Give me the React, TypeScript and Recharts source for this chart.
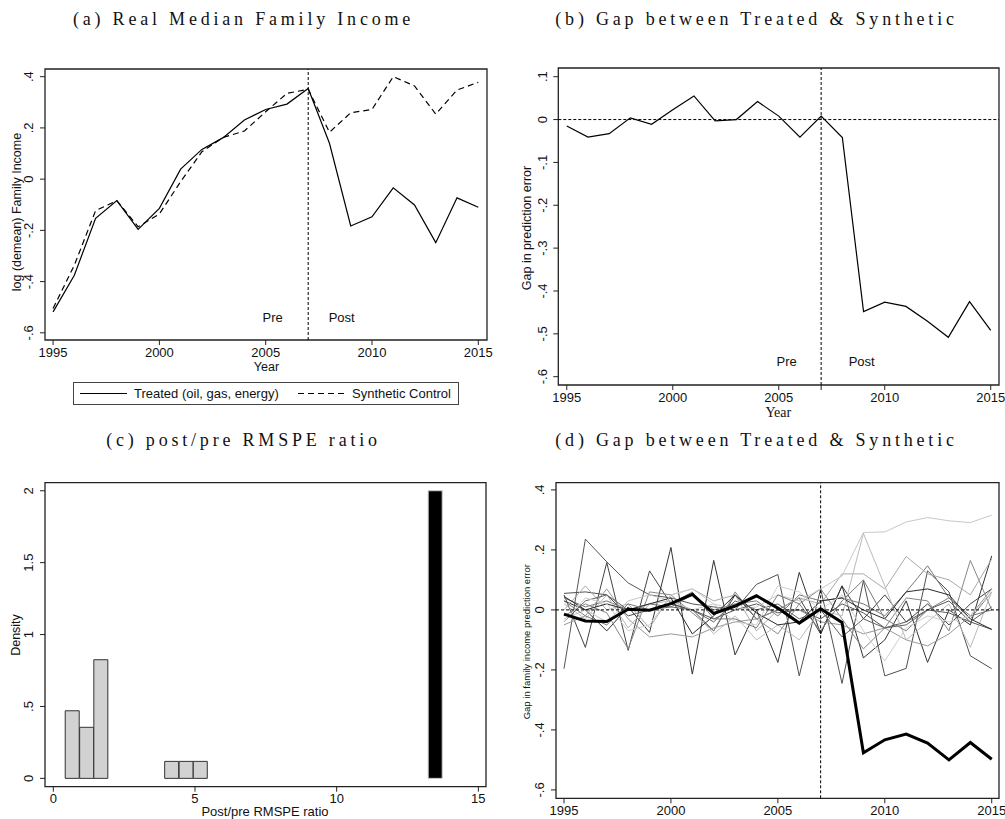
import React from 'react';
import {
  LineChart, Line, BarChart, Bar, Cell, XAxis, YAxis,
  ReferenceLine, ReferenceArea
} from 'recharts';

// ---- data ----
const years = [1995, 1996, 1997, 1998, 1999, 2000, 2001, 2002, 2003, 2004, 2005,
  2006, 2007, 2008, 2009, 2010, 2011, 2012, 2013, 2014, 2015];

// (a) log (demean) family income
const treatedIncome = [-0.518, -0.375, -0.153, -0.084, -0.196, -0.114, 0.039, 0.116, 0.162, 0.231, 0.272,
  0.293, 0.354, 0.140, -0.183, -0.147, -0.034, -0.101, -0.248, -0.073, -0.110];
const syntheticIncome = [-0.505, -0.336, -0.123, -0.084, -0.186, -0.136, -0.010, 0.107, 0.163, 0.188, 0.263,
  0.335, 0.351, 0.183, 0.259, 0.272, 0.400, 0.364, 0.254, 0.348, 0.378];

// (b) gap treated - synthetic
const gapTreated = [-0.015, -0.041, -0.033, 0.004, -0.011, 0.023, 0.055, -0.003, 0.000, 0.042, 0.008,
  -0.041, 0.008, -0.042, -0.448, -0.426, -0.436, -0.470, -0.508, -0.425, -0.492];

// (c) post/pre RMSPE ratio histogram
const ratioBins = [0.67, 1.18, 1.68, 4.18, 4.69, 5.19, 13.48];
const ratioDensity = [0.47, 0.355, 0.825, 0.118, 0.118, 0.118, 2.0];
const treatedBinIndex = 6;

// (d) treated gap and placebo gaps
const gapTreatedAll = [-0.014, -0.037, -0.039, 0.002, -0.001, 0.021, 0.052, -0.012, 0.013, 0.047, 0.006,
  -0.044, 0.004, -0.042, -0.476, -0.433, -0.414, -0.444, -0.500, -0.442, -0.498];
const placeboA = [-0.196, 0.236, 0.160, 0.090, 0.050, 0.040, 0.020, 0.010, 0.000, 0.020, -0.010, 0.000, -0.030, 0.020, -0.010, -0.060, -0.040, 0.000, 0.030, -0.040, -0.065];
const placeboB = [0.050, -0.125, 0.158, -0.135, 0.130, 0.020, 0.000, -0.070, 0.050, -0.030, 0.000, 0.040, -0.080, 0.080, -0.030, 0.050, -0.040, 0.020, -0.050, 0.020, 0.070];
const placeboC = [0.030, 0.000, -0.070, 0.010, -0.075, 0.208, -0.214, 0.165, -0.150, 0.000, -0.175, 0.125, -0.080, 0.080, -0.160, -0.100, 0.030, -0.175, 0.000, -0.050, 0.180];
const placeboD = [0.055, 0.060, 0.050, -0.020, 0.000, 0.020, 0.000, -0.030, 0.000, 0.085, 0.118, -0.220, 0.070, -0.245, 0.097, -0.220, -0.195, 0.130, 0.060, -0.153, -0.196];
const placeboE = [0.040, 0.010, 0.030, 0.000, 0.020, 0.010, 0.050, 0.000, 0.020, 0.030, -0.020, 0.050, 0.030, 0.040, 0.020, -0.020, 0.060, 0.147, 0.040, -0.020, 0.000];
const placeboF = [-0.020, 0.020, -0.010, -0.130, 0.060, 0.050, -0.010, -0.070, 0.060, -0.030, -0.080, 0.020, 0.070, -0.030, -0.130, -0.060, 0.040, 0.030, -0.070, 0.165, 0.000];
const placeboG = [-0.050, -0.020, 0.070, -0.030, -0.090, -0.080, -0.090, -0.060, -0.040, -0.030, 0.000, 0.000, -0.040, -0.050, -0.080, -0.060, -0.100, -0.120, -0.080, -0.020, 0.070];
const placeboH = [0.000, 0.080, 0.000, 0.020, -0.060, 0.050, 0.070, 0.030, 0.050, -0.070, 0.000, 0.040, 0.020, 0.120, 0.120, 0.070, 0.178, 0.120, 0.100, 0.050, 0.170];
const placeboI = [-0.030, 0.000, -0.040, 0.030, 0.050, 0.030, 0.000, 0.020, 0.000, 0.010, 0.050, 0.030, 0.070, 0.113, 0.258, 0.260, 0.293, 0.308, 0.297, 0.291, 0.316];
const placeboJ = [0.020, -0.030, 0.050, -0.060, 0.020, 0.030, 0.000, -0.080, -0.020, -0.100, -0.050, -0.100, 0.000, -0.020, 0.255, 0.080, -0.100, -0.040, 0.020, -0.125, 0.060];
const placeboK = [0.045, 0.000, 0.020, 0.000, 0.020, 0.040, -0.080, -0.020, 0.050, -0.010, -0.050, -0.040, 0.030, 0.040, 0.000, -0.030, 0.060, 0.070, 0.050, -0.030, -0.065];
const placeboL = [-0.040, 0.030, 0.050, 0.000, 0.000, 0.010, 0.000, -0.040, 0.030, 0.000, 0.020, -0.030, 0.000, -0.090, -0.030, -0.060, -0.050, 0.000, -0.010, -0.040, 0.010];
const placeboM = [0.030, -0.020, -0.050, 0.020, 0.000, 0.020, 0.060, -0.030, -0.030, -0.060, 0.050, 0.020, -0.070, 0.030, 0.100, -0.030, -0.070, 0.000, 0.040, -0.030, 0.060];
const placeboN = [-0.040, 0.040, 0.020, -0.070, -0.050, 0.050, 0.070, 0.020, -0.040, -0.050, 0.080, 0.060, 0.000, 0.050, -0.070, -0.170, -0.060, -0.020, -0.040, -0.020, 0.060];
const placeboGaps = [placeboA, placeboB, placeboC, placeboD, placeboE, placeboF, placeboG,
  placeboH, placeboI, placeboJ, placeboK, placeboL, placeboM, placeboN];

// ticks
const yearTicks = [1995, 2000, 2005, 2010, 2015];
const yearTicksB = [1995, 2000, 2005, 2007, 2010, 2015];
const incomeTicks = [-0.6, -0.4, -0.2, 0, 0.2, 0.4];
const gapTicks = [-0.6, -0.5, -0.4, -0.3, -0.2, -0.1, 0, 0.1];
const ratioTicks = [0, 5, 10, 15];
const densityTicks = [0, 0.5, 1, 1.5, 2];
const legendNames = ['Treated (oil, gas, energy)', 'Synthetic Control'];

// styles (kept out of the data)
const placeboColors = ['#555', '#444', '#333', '#505050', '#777', '#888', '#999',
  '#aaa', '#c8c8c8', '#bbb', '#2a2a2a', '#606060', '#7a7a7a', '#cfcfcf'];
const SANS = '"Liberation Sans", Arial, sans-serif';
const SERIF = '"Liberation Serif", "Times New Roman", serif';
const FRAME = '#222';

const incomeRows = years.map((year, i) => ({ year, treated: treatedIncome[i], synthetic: syntheticIncome[i] }));
const gapRows = years.map((year, i) => ({ year, gap: gapTreated[i] }));
const placeboRows = years.map((year, i) => {
  const row: Record<string, number> = { year, treated: gapTreatedAll[i] };
  placeboGaps.forEach((p, k) => { row[`p${k}`] = p[i]; });
  return row;
});
const ratioRows = ratioBins.map((ratio, i) => ({ ratio, density: ratioDensity[i] }));

const fmt = (v: number) => {
  const r = Math.round(v * 10) / 10;
  if (r === 0) return '0';
  return (r < 0 ? '-' : '') + Math.abs(r).toString().replace(/^0/, '');
};

const XTick = (props: any) => {
  const { x, y, payload, hide } = props;
  if (hide && hide.includes(payload.value)) return null;
  return (
    <text x={x} y={y + 9.5} textAnchor="middle" fontSize={13} fontFamily={SANS} fill="#111">
      {payload.value}
    </text>
  );
};

const YTick = (props: any) => {
  const { x, y, payload } = props;
  const bx = x - 4.5;
  return (
    <text x={bx} y={y} transform={`rotate(-90 ${bx} ${y})`} textAnchor="middle"
      fontSize={13} fontFamily={SANS} fill="#111">
      {fmt(payload.value)}
    </text>
  );
};

const Frame = ({ x, y }: { x: number[]; y: number[] }) => (
  <ReferenceArea x1={x[0]} x2={x[1]} y1={y[0]} y2={y[1]} fill="none" stroke={FRAME}
    strokeWidth={1.3} ifOverflow="visible" />
);

const domA = { x: [1994.62, 2015.41], y: [-0.628, 0.43] };
const domB = { x: [1994.60, 2015.39], y: [-0.6194, 0.1203] };
const domC = { x: [-0.293, 15.27], y: [-0.058, 2.056] };
const domD = { x: [1994.626, 2015.34], y: [-0.628, 0.424] };

const Title = ({ x, y, children }: { x: number; y: number; children: string }) => (
  <text x={x} y={y} textAnchor="middle" fontFamily={SERIF} fontSize={18} letterSpacing={3.8} fill="#111">
    {children}
  </text>
);

const VLabel = ({ x, y, size, children }: { x: number; y: number; size: number; children: string }) => (
  <text x={x} y={y} transform={`rotate(-90 ${x} ${y})`} textAnchor="middle" fontFamily={SANS}
    fontSize={size} fill="#111">{children}</text>
);

const HLabel = ({ x, y, size = 13, font = SANS, children }: { x: number; y: number; size?: number; font?: string; children: string }) => (
  <text x={x} y={y} textAnchor="middle" fontFamily={font} fontSize={size} fill="#111">{children}</text>
);

export default function App() {
  return (
    <div style={{ position: 'absolute', left: 0, top: 0, width: 1005, height: 819, background: '#fff', overflow: 'hidden' }}>
      {/* (a) */}
      <div style={{ position: 'absolute', left: 0, top: 0 }}>
        <LineChart width={500} height={420} data={incomeRows} margin={{ top: 69, right: 13, bottom: 50, left: 5 }}>
          <XAxis dataKey="year" type="number" domain={domA.x} ticks={yearTicks} allowDataOverflow interval={0}
            axisLine={false} tickSize={5} tickLine={{ stroke: FRAME }} tick={<XTick />} height={30} />
          <YAxis type="number" domain={domA.y} ticks={incomeTicks} allowDataOverflow interval={0}
            axisLine={false} tickSize={5} tickLine={{ stroke: FRAME }} tick={<YTick />} width={40} />
          <Frame x={domA.x} y={domA.y} />
          <ReferenceLine x={2007} stroke="#000" strokeDasharray="3 2" />
          <Line type="linear" dataKey="treated" stroke="#000" strokeWidth={1.2} dot={false} isAnimationActive={false} />
          <Line type="linear" dataKey="synthetic" stroke="#000" strokeWidth={1.2} strokeDasharray="6 4" dot={false} isAnimationActive={false} />
        </LineChart>
      </div>

      {/* legend of (a) */}
      <div style={{ position: 'absolute', left: 72.7, top: 381.7, width: 386, height: 23.3, border: '1px solid #444', boxSizing: 'border-box' }}>
        <svg width={384} height={21} style={{ position: 'absolute', left: 0, top: 0 }}>
          <line x1={6} x2={53} y1={10.5} y2={10.5} stroke="#000" strokeWidth={1.2} />
          <text x={60} y={15} fontFamily={SANS} fontSize={13} fill="#111">{legendNames[0]}</text>
          <line x1={224} x2={270} y1={10.5} y2={10.5} stroke="#000" strokeWidth={1.2} strokeDasharray="6 4" />
          <text x={278} y={15} fontFamily={SANS} fontSize={13} fill="#111">{legendNames[1]}</text>
        </svg>
      </div>

      {/* (b) */}
      <div style={{ position: 'absolute', left: 500, top: 0 }}>
        <LineChart width={505} height={420} data={gapRows} margin={{ top: 68, right: 6, bottom: 5, left: 18.3 }}>
          <XAxis dataKey="year" type="number" domain={domB.x} ticks={yearTicksB} allowDataOverflow interval={0}
            axisLine={false} tickSize={5} tickLine={{ stroke: FRAME }} tick={<XTick hide={[2007]} />} height={30} />
          <YAxis type="number" domain={domB.y} ticks={gapTicks} allowDataOverflow interval={0}
            axisLine={false} tickSize={5} tickLine={{ stroke: FRAME }} tick={<YTick />} width={40} />
          <Frame x={domB.x} y={domB.y} />
          <ReferenceLine y={0} stroke="#000" strokeDasharray="3 2" />
          <ReferenceLine x={2007} stroke="#000" strokeDasharray="3 2" />
          <Line type="linear" dataKey="gap" stroke="#000" strokeWidth={1.2} dot={false} isAnimationActive={false} />
        </LineChart>
      </div>

      {/* (c) */}
      <div style={{ position: 'absolute', left: 0, top: 420 }}>
        <BarChart width={500} height={399} data={ratioRows} margin={{ top: 62.7, right: 14, bottom: 2.3, left: 5 }}>
          <XAxis dataKey="ratio" type="number" domain={domC.x} ticks={ratioTicks} allowDataOverflow interval={0}
            axisLine={false} tickSize={5} tickLine={{ stroke: FRAME }} tick={<XTick />} height={30} />
          <YAxis type="number" domain={domC.y} ticks={densityTicks} allowDataOverflow interval={0}
            axisLine={false} tickSize={5} tickLine={{ stroke: FRAME }} tick={<YTick />} width={40} />
          <Frame x={domC.x} y={domC.y} />
          <Bar dataKey="density" barSize={14} isAnimationActive={false}>
            {ratioRows.map((_, i) => (
              <Cell key={i} fill={i === treatedBinIndex ? '#000' : '#d2d2d2'}
                stroke={i === treatedBinIndex ? '#c8c8c8' : '#333'} strokeWidth={1} />
            ))}
          </Bar>
        </BarChart>
      </div>

      {/* (d) */}
      <div style={{ position: 'absolute', left: 500, top: 420 }}>
        <LineChart width={505} height={399} data={placeboRows} margin={{ top: 62.7, right: 6, bottom: 0.7, left: 16 }}>
          <XAxis dataKey="year" type="number" domain={domD.x} ticks={yearTicks} allowDataOverflow interval={0}
            axisLine={false} tickSize={5} tickLine={{ stroke: FRAME }} tick={<XTick />} height={20} />
          <YAxis type="number" domain={domD.y} ticks={incomeTicks} allowDataOverflow interval={0}
            axisLine={false} tickSize={5} tickLine={{ stroke: FRAME }} tick={<YTick />} width={40} />
          <Frame x={domD.x} y={domD.y} />
          {placeboGaps.map((_, k) => (
            <Line key={k} type="linear" dataKey={`p${k}`} stroke={placeboColors[k]} strokeWidth={1}
              dot={false} isAnimationActive={false} />
          ))}
          <ReferenceLine y={0} stroke="#000" strokeDasharray="3 2" />
          <ReferenceLine x={2007} stroke="#000" strokeDasharray="3 2" />
          <Line type="linear" dataKey="treated" stroke="#000" strokeWidth={3} dot={false} isAnimationActive={false} />
        </LineChart>
      </div>

      {/* titles and axis labels */}
      <svg width={1005} height={819} style={{ position: 'absolute', left: 0, top: 0, pointerEvents: 'none' }}>
        <Title x={243.5} y={25}>(a) Real Median Family Income</Title>
        <Title x={756.5} y={25}>(b) Gap between Treated &amp; Synthetic</Title>
        <Title x={243.5} y={446}>(c) post/pre RMSPE ratio</Title>
        <Title x={756.5} y={446}>(d) Gap between Treated &amp; Synthetic</Title>

        <VLabel x={21} y={212} size={12.5}>log (demean) Family Income</VLabel>
        <HLabel x={266.5} y={371} size={12.5}>Year</HLabel>
        <HLabel x={272.7} y={321.5}>Pre</HLabel>
        <HLabel x={341.7} y={321.5}>Post</HLabel>

        <VLabel x={531} y={228} size={12.5}>Gap in prediction error</VLabel>
        <HLabel x={778.3} y={417} size={14} font={SERIF}>Year</HLabel>
        <HLabel x={786.7} y={366}>Pre</HLabel>
        <HLabel x={861.7} y={366}>Post</HLabel>

        <VLabel x={19.5} y={635} size={12.5}>Density</VLabel>
        <HLabel x={265} y={815.5}>Post/pre RMSPE ratio</HLabel>

        <VLabel x={530} y={641.7} size={9.5}>Gap in family income prediction error</VLabel>
      </svg>
    </div>
  );
}
